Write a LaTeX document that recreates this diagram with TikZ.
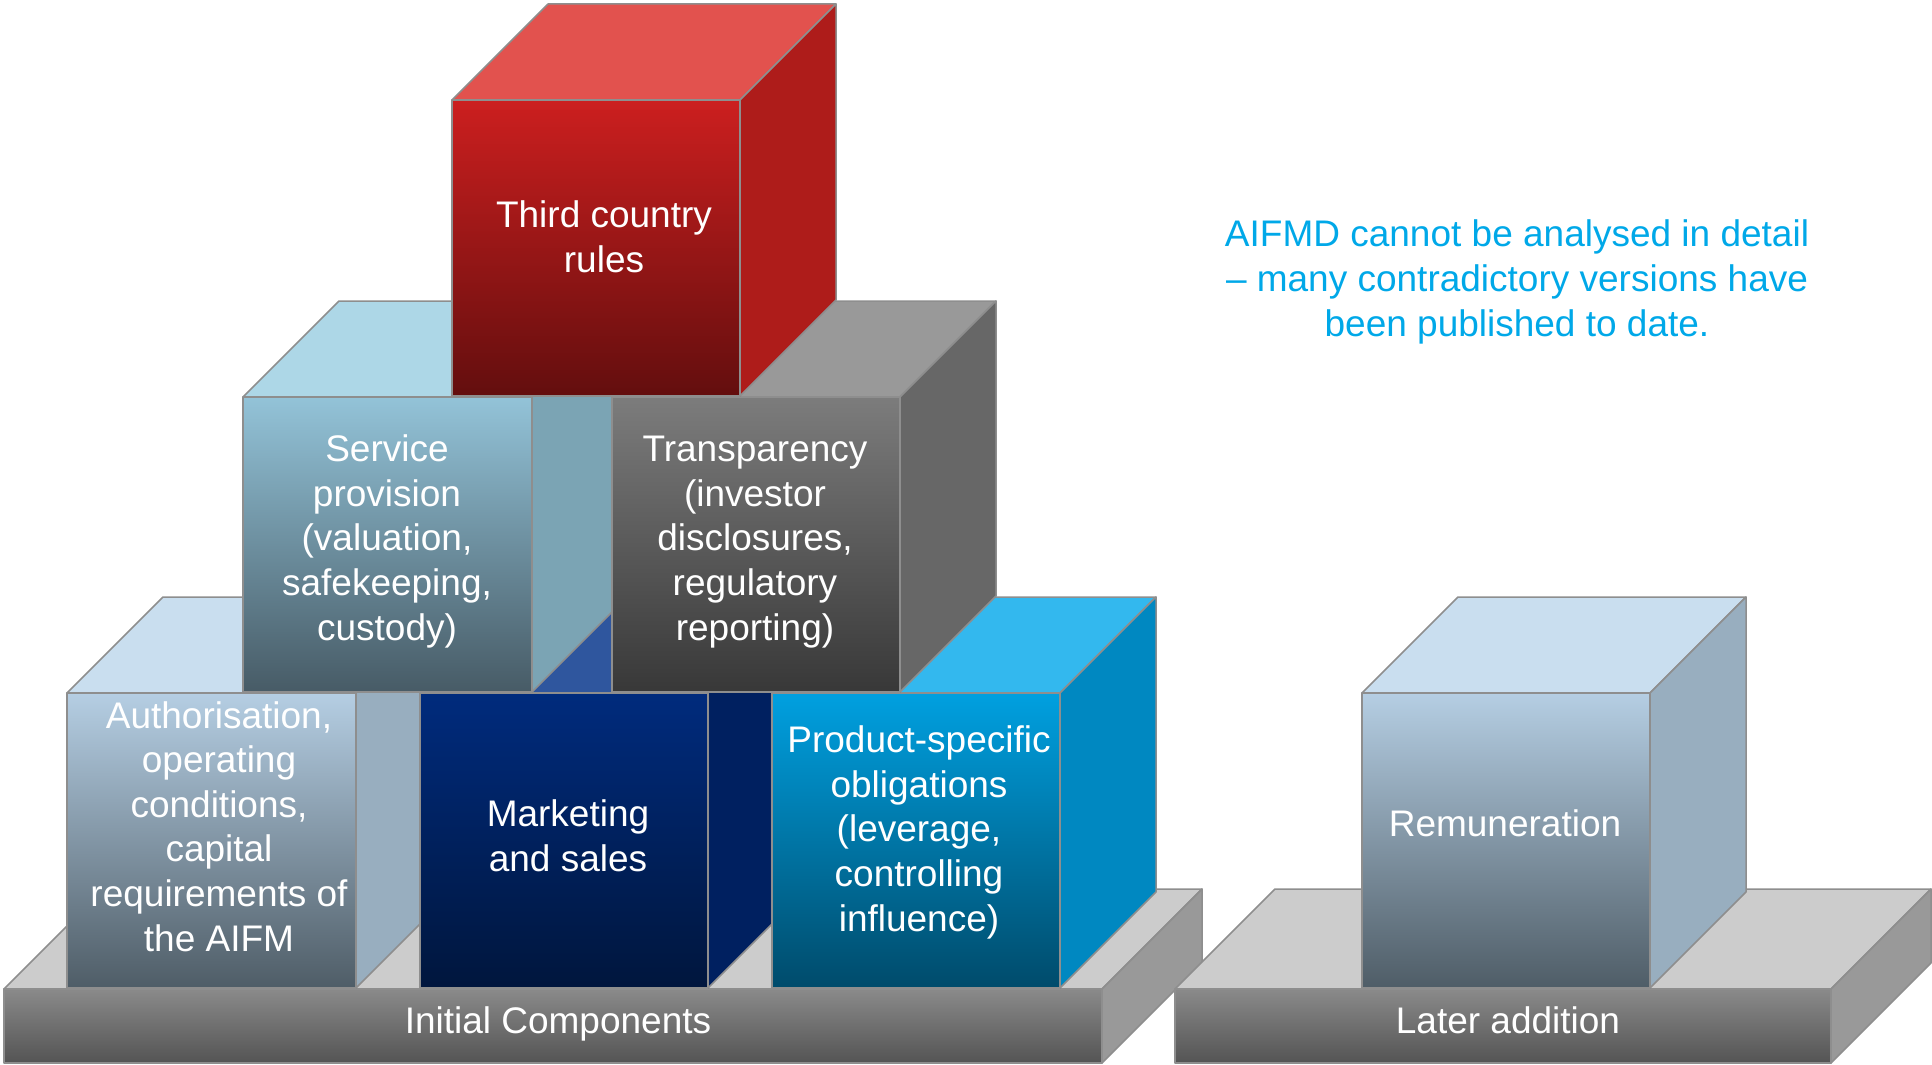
\documentclass[tikz,border=0pt]{standalone}
\usepackage{fontspec}
\setmainfont{Liberation Sans}
\usetikzlibrary{shadings}

% face colours: top face, front (upper / lower end of the gradient), right side
\definecolor{edgegray}{HTML}{8E8E8E}
\definecolor{thirdtop}{HTML}{E2524E}
\definecolor{thirdhi}{HTML}{CC1F1F}
\definecolor{thirdlo}{HTML}{630E0E}
\definecolor{thirdside}{HTML}{AE1C1A}
\definecolor{servtop}{HTML}{ADD7E7}
\definecolor{servhi}{HTML}{93C3D8}
\definecolor{servlo}{HTML}{475B66}
\definecolor{servside}{HTML}{7BA4B4}
\definecolor{transtop}{HTML}{999999}
\definecolor{transhi}{HTML}{7C7C7C}
\definecolor{translo}{HTML}{383838}
\definecolor{transside}{HTML}{676767}
\definecolor{authtop}{HTML}{C9DEEF}
\definecolor{authhi}{HTML}{B5CEE3}
\definecolor{authlo}{HTML}{4F5D67}
\definecolor{authside}{HTML}{98AEBF}
\definecolor{markettop}{HTML}{2F569E}
\definecolor{markethi}{HTML}{002B7D}
\definecolor{marketlo}{HTML}{00163D}
\definecolor{marketside}{HTML}{002060}
\definecolor{prodtop}{HTML}{33B8EE}
\definecolor{prodhi}{HTML}{00A0E0}
\definecolor{prodlo}{HTML}{004B6B}
\definecolor{prodside}{HTML}{0088C1}
\definecolor{basetop}{HTML}{CCCCCC}
\definecolor{basehi}{HTML}{8A8A8A}
\definecolor{baselo}{HTML}{545454}
\definecolor{baseside}{HTML}{999999}
\definecolor{notecyan}{HTML}{00A8E8}

% multi-line labels are placed by the baseline of their last line
\tikzset{
  edge/.style={draw=edgegray, line width=1.5pt, line join=round},
  boxtext/.style={text=white, align=center, anchor=base, inner sep=0pt,
    font=\fontsize{37}{44.6}\selectfont},
  notetext/.style={text=notecyan, align=center, anchor=base, inner sep=0pt,
    font=\fontsize{37}{45}\selectfont},
}

% a block seen from the front-right: #1,#2 = top-left corner of the front,
% #3 = width, #4 = height, #5 = depth, #6 = colour prefix
\newcommand{\drawblock}[6]{%
  \path[edge, fill=#6top] (#1,#2) -- ({#1+#5},{#2-#5}) -- ({#1+#3+#5},{#2-#5})
    -- ({#1+#3},#2) -- cycle;
  \path[edge, fill=#6side] ({#1+#3},#2) -- ({#1+#3+#5},{#2-#5})
    -- ({#1+#3+#5},{#2+#4-#5}) -- ({#1+#3},{#2+#4}) -- cycle;
  \path[edge, top color=#6hi, bottom color=#6lo] (#1,#2) rectangle ({#1+#3},{#2+#4});
}

\begin{document}
\begin{tikzpicture}[x=1pt, y=-1pt]
\useasboundingbox (0,0) rectangle (1932,1065);

% platforms
\drawblock{4}{989}{1098}{74}{100}{base}
\drawblock{1175}{989}{656}{74}{100}{base}

% bottom row
\drawblock{67}{693}{289}{295}{96}{auth}
\drawblock{420}{693}{288}{295}{96}{market}
\drawblock{772}{693}{288}{295}{96}{prod}
\drawblock{1362}{693}{288}{295}{96}{auth}

% middle row
\drawblock{243}{397}{289}{295}{96}{serv}
\drawblock{612}{397}{288}{295}{96}{trans}

% top
\drawblock{452}{100}{288}{296}{96}{third}

% labels
\node[boxtext] (third) at (604,272) {Third country\\rules};
\node[boxtext] (service) at (387,640) {Service\\provision\\(valuation,\\safekeeping,\\custody)};
\node[boxtext] (transparency) at (755,640) {Transparency\\(investor\\disclosures,\\regulatory\\reporting)};
\node[boxtext] (auth) at (219,951) {Authorisation,\\operating\\conditions,\\capital\\requirements of\\the AIFM};
\node[boxtext] (marketing) at (568,871) {Marketing\\and sales};
\node[boxtext] (product) at (919,931) {Product-specific\\obligations\\(leverage,\\controlling\\influence)};
\node[boxtext] (remuneration) at (1505,836) {Remuneration};
\node[boxtext] (initial) at (558,1033) {Initial Components};
\node[boxtext] (later) at (1508,1033) {Later addition};

\node[notetext] (note) at (1517,336) {AIFMD cannot be analysed in detail\\– many contradictory versions have\\been published to date.};
\end{tikzpicture}
\end{document}
